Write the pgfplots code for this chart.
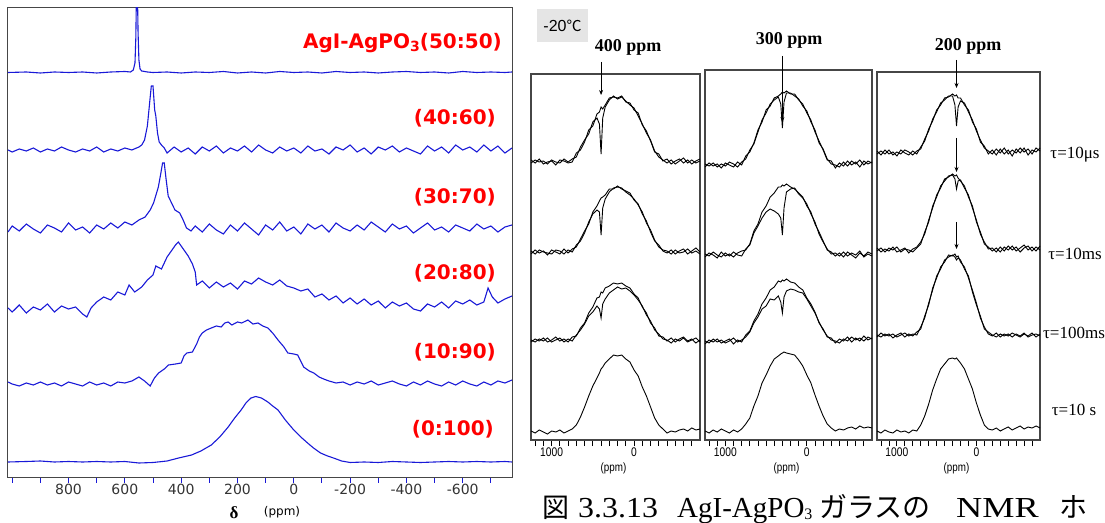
\documentclass[border=0pt]{standalone}
\usepackage{pgfplots}
\pgfplotsset{compat=1.18}
\usepackage{pgfplotstable}
\usetikzlibrary{arrows.meta}
\usepackage{fontspec}
\setmainfont{Liberation Serif}
\newfontfamily\dejavu{DejaVu Sans}
\newfontfamily\libsans{Liberation Sans}
\newfontfamily\narrowsans[FakeStretch=0.82]{Liberation Sans}
\newfontfamily\cjk{Noto Sans CJK JP}
\definecolor{specblue}{RGB}{25,25,215}
\definecolor{labred}{RGB}{255,0,0}
\definecolor{framegray}{RGB}{70,70,70}

\pgfplotstableread{
x y
1015 405.5
950 406
900 405
850 406
800 405.5
750 406
700 405
650 406
600 406.5
580 406
570 408
564 415
561 440
559 480
555 480
553 445
550 418
546 409
540 407
520 406
500 405.5
450 406
400 405
350 406
300 405.5
250 406.5
200 405
150 406
100 405
50 406.5
0 405.5
-50 406
-100 405
-150 406.5
-200 405.5
-250 406
-300 405
-350 406
-400 406.5
-450 405.5
-500 406
-550 405
-600 406.5
-650 405.5
-700 406
-750 405.5
-775 406
}\tA
\pgfplotstableread{
x y
1015 328
1000 326
975 329
950 327
925 330
900 326
875 329
850 327
825 331
800 328
775 326
750 329
725 327
700 331
675 326
650 329
625 327
600 330
575 328
550 331
540 333
530 338
520 352
512 375
506 392
500 392
494 368
490 362
484 345
478 336
470 333
460 330
450 325
425 331
400 326
375 330
350 324
325 331
300 327
275 332
250 325
225 330
200 327
175 332
150 326
125 333
100 328
75 325
50 331
25 327
0 330
-25 325
-50 332
-75 327
-100 329
-125 324
-150 331
-175 328
-200 333
-225 326
-250 330
-275 324
-300 331
-325 328
-350 332
-375 326
-400 330
-425 327
-450 324
-475 332
-500 327
-525 331
-550 325
-575 333
-600 328
-625 331
-650 326
-675 333
-700 327
-725 332
-750 325
-775 330
}\tB
\pgfplotstableread{
x y
1015 246
1000 252
975 247
950 254
925 249
900 245
875 253
850 250
825 246
800 255
775 248
750 251
725 245
700 253
675 249
650 255
625 250
600 256
575 253
550 258
528 261
510 268
498 275
481 291
472 305
466 315
460 315
454 300
446 282
434 275
422 268
405 265
393 258
381 250
365 247
350 252
325 246
300 254
275 248
250 244
225 253
200 247
175 255
150 249
125 243
100 253
75 248
50 256
25 247
0 251
-25 244
-50 254
-75 249
-100 253
-125 246
-150 255
-175 250
-200 247
-225 253
-250 248
-275 256
-300 251
-325 246
-350 254
-375 249
-400 252
-425 245
-450 250
-475 255
-500 248
-525 251
-550 246
-575 253
-600 250
-625 247
-650 254
-675 249
-700 252
-725 246
-750 251
-775 253
}\tC
\pgfplotstableread{
x y
1015 170
1000 166
975 173
950 165
925 171
900 168
875 174
850 166
825 172
800 169
775 171
750 164
735 161
720 170
700 176
675 181
650 178
625 186
600 183
585 193
565 186
540 191
520 198
500 203
490 212
470 209
450 221
435 227
420 233
410 236
400 232
390 228
375 222
360 214
350 206
345 193
325 197
300 190
275 196
250 191
225 195
200 189
175 197
150 194
125 200
100 196
75 193
50 198
25 192
0 190
-25 187
-50 189
-75 181
-100 184
-125 178
-150 182
-175 175
-200 180
-225 174
-250 179
-275 173
-300 177
-325 170
-350 176
-375 172
-400 175
-425 169
-450 167
-475 174
-500 171
-525 176
-550 170
-575 177
-600 174
-625 178
-650 173
-675 176
-690 190
-705 181
-725 175
-750 179
-775 182
}\tD
\pgfplotstableread{
x y
1015 96
1000 94
975 92
950 95
925 93
900 96
875 93
850 95
825 92
800 96
775 94
750 92
725 96
700 93
675 95
650 92
625 96
600 95
575 97
550 101
530 97
510 92
495 100
480 105
460 109
445 113
420 114
400 115
390 122
380 125
360 126
345 134
335 141
325 145
310 148
293 150
275 152
258 151
245 155
233 156
220 153
200 156
185 155
163 158
145 154
127 155
110 152
92 150
75 145
56 138
35 131
21 125
0 124
-14 123
-35 111
-55 107
-71 105
-90 101
-106 99
-125 97
-150 95
-175 96
-200 93
-225 96
-250 94
-275 97
-300 93
-325 95
-350 97
-375 94
-400 92
-425 96
-450 93
-475 97
-500 94
-525 92
-550 96
-575 93
-600 97
-625 94
-650 92
-675 96
-700 93
-725 97
-750 95
-775 98
}\tE
\pgfplotstableread{
x y
1015 16
950 16.5
900 17
850 16
800 16.5
750 16
700 16.5
650 16
600 16.5
550 15
500 15.5
450 17
409 20
363 23
330 27
293 33
263 41
233 51
210 60
187 68
170 75
152 80
135 81.5
115 80
92 76
75 72
56 68
30 58
0 48
-25 41
-49 35
-70 30
-95 25
-120 22
-141 20
-170 17
-200 15.5
-250 16
-300 15.5
-350 16.5
-400 16
-450 15.5
-500 16
-550 16.5
-600 16
-650 16.5
-700 16
-750 16.5
-775 16
}\tF

\pgfplotstableread{
x a1 b1 a2 b2 a3 b3 r4
1250 280 277 186 189 98 100 9
1200 277 280 190 186 101 98 7
1150 281 278 187 190 99 101 10
1100 276 279 189 188 102 99 8
1050 278 276 185 187 98 102 6
1000 279 280 190 186 100 98 9
950 275 278 188 190 103 100 8
900 280 277 186 189 99 102 10
850 279 281 191 186 101 98 7
800 277 278 187 190 98 101 9
750 278 281 191 188 103 99 11
700 287 283 193 195 104 105 15
650 290 293 201 199 112 110 23
600 298 300 209 207 117 116 33
550 310 306 216 218 127 124 44
500 314 318 228 226 133 128 54
450 326 322 234 230 142 134 62
420 328 316 239 228 143 131 67
400 333 286 242 205 148 122 71
380 331 322 243 232 147 136 73
350 335 333 245 241 152 141 77
300 342 340 251 248 154 147 81
250 343 344 251 252 157 150 85
200 342 341 254 253 156 153 84
150 344 343 251 252 157 151 85
100 338 339 249 248 154 152 81
50 337 335 247 245 152 149 78
0 330 332 240 241 146 145 70
-50 327 324 236 235 142 140 64
-100 315 316 226 228 133 134 53
-150 309 307 219 217 127 125 44
-200 299 300 208 210 117 119 33
-250 288 289 199 200 112 110 22
-300 286 283 195 193 104 106 15
-350 279 280 189 190 103 101 11
-400 281 277 187 189 99 100 7
-450 276 280 190 186 102 97 9
-500 279 276 186 190 98 101 8
-550 281 279 189 187 101 99 10
-600 277 282 191 188 103 102 11
-650 280 277 186 191 99 98 9
-700 276 280 189 187 101 100 12
-750 279 277 192 189 97 102 10
-800 281 279 188 186 100 98 11
}\boxA
\pgfplotstableread{
x a1 b1 a2 b2 a3 b3 r4
1250 273 276 183 186 96 99 9
1200 277 274 187 184 100 97 7
1150 274 277 185 188 98 101 10
1100 276 273 182 185 101 98 8
1050 272 276 188 183 97 100 11
1000 277 274 184 187 99 97 9
950 275 278 186 184 101 99 7
900 273 276 183 188 96 102 10
850 278 273 187 185 100 98 8
800 275 278 189 184 98 100 11
750 284 281 190 191 105 103 16
700 288 290 196 195 109 108 22
650 297 296 209 207 119 117 34
600 310 308 216 214 126 123 44
550 318 320 228 222 136 131 57
500 330 327 234 228 142 134 65
450 334 336 243 231 150 141 74
400 342 340 247 229 153 140 81
350 344 343 253 226 159 144 84
320 346 336 253 222 158 138 86
300 348 312 255 205 160 127 87
280 347 338 254 232 159 143 88
250 349 347 256 248 161 149 87
200 346 347 253 251 158 151 86
150 346 344 251 252 157 150 85
100 340 341 247 246 153 148 80
50 336 334 243 242 150 147 74
0 327 329 234 236 142 141 65
-50 320 318 228 226 136 134 57
-100 308 310 216 218 128 127 45
-150 299 297 208 206 117 118 34
-200 290 291 199 198 111 110 24
-250 280 281 190 191 103 104 16
-300 279 276 188 186 102 100 12
-350 272 275 184 187 97 99 9
-400 277 273 187 184 101 97 11
-450 274 278 183 188 99 101 10
-500 279 274 188 184 103 99 12
-550 275 279 185 187 98 103 13
-600 278 276 182 185 102 100 11
-650 273 280 187 189 99 102 14
-700 279 275 184 183 104 99 12
-750 276 279 188 186 100 103 13
-800 278 277 186 184 102 101 12
}\boxB
\pgfplotstableread{
x a1 b1 a2 b2 a3 b3 r4
1250 289 286 192 189 103 105 9
1200 285 289 188 192 107 103 7
1150 290 286 191 188 104 106 10
1100 286 290 189 192 106 104 8
1050 288 285 193 190 102 106 7
1000 284 288 188 193 105 103 10
950 290 286 190 188 107 105 8
900 287 290 192 191 103 107 9
850 285 288 187 190 106 104 7
800 289 285 191 188 104 106 10
750 286 289 193 192 108 105 9
700 293 291 198 196 111 113 15
650 299 301 206 208 124 122 24
600 311 309 220 218 135 137 36
550 319 321 232 234 152 150 50
500 330 328 245 243 162 164 61
450 335 337 252 254 173 171 71
400 342 340 261 259 178 180 76
350 343 344 263 264 185 183 81
300 346 344 266 265 184 185 82
270 344 335 264 261 186 183 81
250 345 314 265 251 183 180 82
230 342 333 262 259 184 182 80
200 342 339 259 260 178 180 77
150 335 337 254 252 173 171 71
100 330 328 243 245 162 164 61
50 318 320 234 232 150 148 51
0 311 309 218 220 137 135 37
-50 298 300 208 206 122 124 25
-100 294 292 196 198 113 111 15
-150 286 289 193 191 106 108 11
-200 290 286 189 192 104 105 10
-250 285 291 192 188 107 103 12
-300 291 287 188 193 103 106 9
-350 286 292 193 189 106 104 11
-400 290 286 190 194 104 106 13
-450 284 290 194 190 107 103 10
-500 291 287 189 193 105 106 12
-550 287 292 192 188 103 104 14
-600 292 288 195 192 106 107 11
-650 285 291 190 194 104 103 13
-700 290 286 193 189 107 105 12
-750 288 292 189 193 103 106 14
-800 292 289 194 190 106 104 12
}\boxC

\pgfplotsset{
  nmrbox/.style={
    scale only axis, anchor=south west,
    xmin=-800, xmax=1250, x dir=reverse, ymin=0,
    xtick={0,1000}, xticklabels={0,1000},
    minor xtick={-700,-600,...,1200},
    ytick=\empty, tick align=outside, tick pos=left,
    major tick length=6pt, minor tick length=6pt,
    tick style={black, line width=0.8pt},
    axis line style={framegray, line width=1.1pt},
    xticklabel style={font=\narrowsans\fontsize{12.5}{13}\selectfont, yshift=2pt},
    clip=false,
  },
  spec/.style={black, line width=0.9pt},
}

\begin{document}
\begin{tikzpicture}
\useasboundingbox (0pt,0pt) rectangle (1105pt,522pt);

% ================= LEFT PANEL =================
\begin{axis}[
  at={(8pt,44pt)}, anchor=south west, scale only axis,
  width=504pt, height=470pt,
  xmin=-775, xmax=1015, x dir=reverse, ymin=0, ymax=470,
  ytick=\empty,
  xtick={-700,-600,...,1000},
  xticklabels={{},{-600},{},{-400},{},{-200},{},{0},{},{200},{},{400},{},{600},{},{800},{},{}},
  tick align=outside, tick pos=left, major tick length=5pt,
  tick style={specblue, line width=1pt},
  axis line style={framegray, line width=1pt},
  xticklabel style={font=\dejavu\fontsize{14}{15}\selectfont, text=black!80, yshift=2pt},
]
\addplot[specblue, line width=1.1pt] table {\tA};
\addplot[specblue, line width=1.1pt] table {\tB};
\addplot[specblue, line width=1.1pt] table {\tC};
\addplot[specblue, line width=1.1pt] table {\tD};
\addplot[specblue, line width=1.1pt] table {\tE};
\addplot[specblue, line width=1.1pt] table {\tF};
\end{axis}

\begin{scope}[every node/.style={anchor=east, text=labred, inner sep=0, font=\dejavu\bfseries\fontsize{20}{22}\selectfont}]
\node at (502pt,479pt) {AgI-AgPO\raisebox{-3pt}{\fontsize{14}{14}\selectfont 3}(50:50)};
\node at (496pt,404pt) {(40:60)};
\node at (496pt,325pt) {(30:70)};
\node at (496pt,249pt) {(20:80)};
\node at (496pt,170pt) {(10:90)};
\node at (494pt,93pt) {(0:100)};
\end{scope}
\node[inner sep=0] at (234pt,9pt) {\fontsize{17}{17}\selectfont\bfseries δ};
\node[inner sep=0] at (282pt,10pt) {\dejavu\fontsize{12}{12}\selectfont (ppm)};

% ================= RIGHT PANEL =================
\fill[black!10] (537pt,480pt) rectangle (588pt,513pt);
\node[inner sep=0] at (562.5pt,496.5pt) {\libsans\fontsize{16}{16}\selectfont -20{\cjk\fontsize{15}{15}\selectfont ℃}};
\node[inner sep=0] at (628pt,475pt) {\bfseries\fontsize{18}{18}\selectfont 400 ppm};
\node[inner sep=0] at (789pt,482pt) {\bfseries\fontsize{18}{18}\selectfont 300 ppm};
\node[inner sep=0] at (968pt,476pt) {\bfseries\fontsize{18}{18}\selectfont 200 ppm};

% box 1
\begin{axis}[nmrbox, at={(531pt,82pt)}, width=169pt, height=366pt, ymax=366]
\addplot[spec] table[y=a1] {\boxA};
\addplot[spec] table[y=b1] {\boxA};
\addplot[spec] table[y=a2] {\boxA};
\addplot[spec] table[y=b2] {\boxA};
\addplot[spec] table[y=a3] {\boxA};
\addplot[spec] table[y=b3] {\boxA};
\addplot[spec] table[y=r4] {\boxA};
\draw[-{Stealth[length=5pt,width=4pt]}, line width=0.7pt] (axis cs:400,378) -- (axis cs:400,345);
\node[font=\narrowsans\fontsize{12}{12}\selectfont] at (axis cs:250,-28) {(ppm)};
\end{axis}

% box 2
\begin{axis}[nmrbox, at={(705pt,82pt)}, width=167pt, height=370pt, ymax=370]
\addplot[spec] table[y=a1] {\boxB};
\addplot[spec] table[y=b1] {\boxB};
\addplot[spec] table[y=a2] {\boxB};
\addplot[spec] table[y=b2] {\boxB};
\addplot[spec] table[y=a3] {\boxB};
\addplot[spec] table[y=b3] {\boxB};
\addplot[spec] table[y=r4] {\boxB};
\draw[-{Stealth[length=5pt,width=4pt]}, line width=0.7pt] (axis cs:300,384) -- (axis cs:300,318);
\node[font=\narrowsans\fontsize{12}{12}\selectfont] at (axis cs:250,-28) {(ppm)};
\end{axis}

% box 3
\begin{axis}[nmrbox, at={(877pt,82pt)}, width=163pt, height=368pt, ymax=368]
\addplot[spec] table[y=a1] {\boxC};
\addplot[spec] table[y=b1] {\boxC};
\addplot[spec] table[y=a2] {\boxC};
\addplot[spec] table[y=b2] {\boxC};
\addplot[spec] table[y=a3] {\boxC};
\addplot[spec] table[y=b3] {\boxC};
\addplot[spec] table[y=r4] {\boxC};
\draw[-{Stealth[length=5pt,width=4pt]}, line width=0.7pt] (axis cs:250,380) -- (axis cs:250,352);
\draw[-{Stealth[length=5pt,width=4pt]}, line width=0.7pt] (axis cs:250,302) -- (axis cs:250,268);
\draw[-{Stealth[length=5pt,width=4pt]}, line width=0.7pt] (axis cs:250,218) -- (axis cs:250,191);
\node[font=\narrowsans\fontsize{12}{12}\selectfont] at (axis cs:250,-28) {(ppm)};
\end{axis}

\begin{scope}[every node/.style={inner sep=0, font=\fontsize{17}{17}\selectfont}]
\node at (1075pt,367pt) {τ=10μs};
\node at (1075pt,268pt) {τ=10ms};
\node at (1074pt,189pt) {τ=100ms};
\node at (1074pt,112pt) {τ=10 s};
\end{scope}

\node[anchor=base west, inner sep=0] at (542pt,5pt) {\cjk\fontsize{27}{30}\selectfont 図};
\node[anchor=base west, inner sep=0] at (578pt,5pt) {\fontsize{29}{32}\selectfont\scalebox{1.1}[1]{3.3.13}};
\node[anchor=base west, inner sep=0] at (677pt,5pt) {\fontsize{29}{32}\selectfont AgI-AgPO\raisebox{-2pt}{\fontsize{16}{16}\selectfont 3}};
\node[anchor=base west, inner sep=0] at (819pt,5pt) {\cjk\fontsize{28}{30}\selectfont ガラスの};
\node[anchor=base west, inner sep=0] at (956pt,5pt) {\fontsize{29}{32}\selectfont\scalebox{1.25}[1]{NMR}};
\node[anchor=base west, inner sep=0] at (1059pt,5pt) {\cjk\fontsize{28}{30}\selectfont ホ};
\end{tikzpicture}
\end{document}
